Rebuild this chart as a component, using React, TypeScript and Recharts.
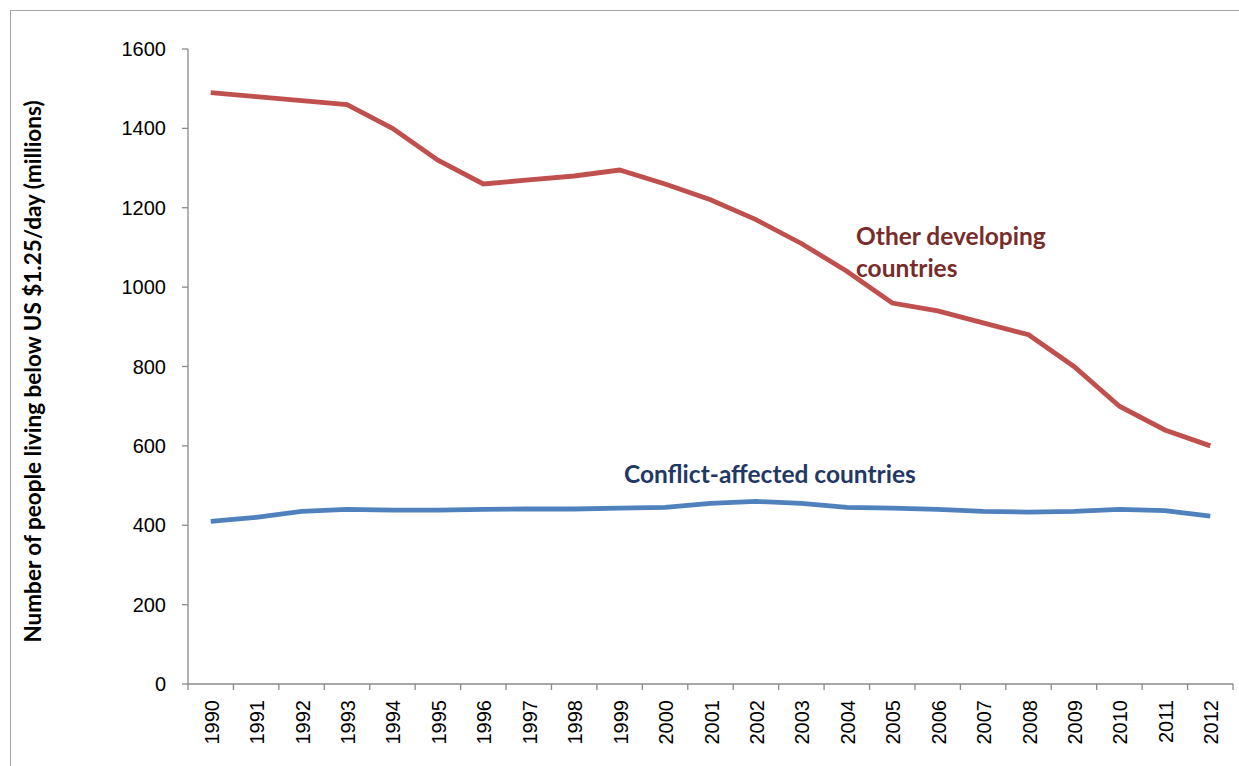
import React from 'react';
import { LineChart, Line, XAxis, YAxis, Label } from 'recharts';

const years = [
  '1990', '1991', '1992', '1993', '1994', '1995', '1996', '1997', '1998', '1999', '2000', '2001',
  '2002', '2003', '2004', '2005', '2006', '2007', '2008', '2009', '2010', '2011', '2012',
];
const otherDeveloping = [
  1490, 1480, 1470, 1460, 1400, 1320, 1260, 1270, 1280, 1295, 1260, 1220,
  1170, 1110, 1040, 960, 940, 910, 880, 800, 700, 640, 600,
];
const conflictAffected = [
  410, 420, 435, 440, 438, 438, 440, 441, 441, 443, 445, 455,
  460, 455, 445, 443, 440, 435, 433, 435, 440, 437, 423,
];
const yTicks = [0, 200, 400, 600, 800, 1000, 1200, 1400, 1600];

const chartData = years.map((year, i) => ({
  year,
  other: otherDeveloping[i],
  conflict: conflictAffected[i],
}));

const W = 1239;
const H = 766;
const LEFT = 188;
const RIGHT = 6;
const TOP = 49;
const XAXIS_H = 82;
const AXIS_GREY = '#8a8a8a';
const band = (W - LEFT - RIGHT) / years.length;

function YearTick(props: any) {
  const { x, y, payload, index } = props;
  const half = band / 2;
  return (
    <g>
      <line x1={x - half} y1={y - 6} x2={x - half} y2={y} stroke={AXIS_GREY} strokeWidth={1.3} />
      {index === years.length - 1 && (
        <line x1={x + half} y1={y - 6} x2={x + half} y2={y} stroke={AXIS_GREY} strokeWidth={1.3} />
      )}
      <text
        transform={`translate(${x + 1}, ${y + 10}) rotate(-90)`}
        textAnchor="end"
        dominantBaseline="central"
        fontFamily="'Liberation Sans', Arial, sans-serif"
        fontSize={20}
        fill="#000"
      >
        {payload.value}
      </text>
    </g>
  );
}

export default function App() {
  return (
    <div
      style={{
        position: 'absolute',
        left: 0,
        top: 0,
        width: W,
        height: H,
        background: '#fff',
        overflow: 'hidden',
      }}
    >
      <div
        style={{
          position: 'absolute',
          left: 10,
          top: 10,
          width: W,
          height: H,
          border: '1.5px solid #a6a6a6',
        }}
      />
      <LineChart
        width={W}
        height={H}
        data={chartData}
        margin={{ top: TOP, right: RIGHT, bottom: 0, left: 0 }}
        style={{ position: 'absolute', left: 0, top: 0 }}
      >
        <XAxis
          dataKey="year"
          height={XAXIS_H}
          interval={0}
          padding={{ left: band / 2, right: band / 2 }}
          tickLine={false}
          tickSize={6}
          tickMargin={0}
          axisLine={{ stroke: AXIS_GREY, strokeWidth: 1.3 }}
          tick={<YearTick />}
        />
        <YAxis
          width={LEFT}
          domain={[0, 1600]}
          ticks={yTicks}
          interval={0}
          tickSize={6}
          tickMargin={16}
          tickLine={{ stroke: AXIS_GREY, strokeWidth: 1.3 }}
          axisLine={{ stroke: AXIS_GREY, strokeWidth: 1.3 }}
          tick={{ fontFamily: "'Liberation Sans', Arial, sans-serif", fontSize: 20, fill: '#000' }}
        >
          <Label
            content={({ viewBox }: any) => (
              <text
                transform={`translate(32, ${viewBox.y + viewBox.height / 2 + 5}) rotate(-90)`}
                textAnchor="middle"
                dominantBaseline="central"
                fontFamily="Lato, 'Open Sans', sans-serif"
                fontWeight="bold"
                fontSize={22.5}
                fill="#000"
              >
                Number of people living below US $1.25/day (millions)
              </text>
            )}
          />
        </YAxis>
        <Line
          type="linear"
          dataKey="other"
          stroke="#C0504D"
          strokeWidth={4.8}
          dot={false}
          isAnimationActive={false}
        />
        <Line
          type="linear"
          dataKey="conflict"
          stroke="#4F81BD"
          strokeWidth={4.8}
          dot={false}
          isAnimationActive={false}
        />
      </LineChart>
      <div
        style={{
          position: 'absolute',
          left: 856,
          top: 220,
          fontFamily: "Lato, 'Open Sans', sans-serif",
          fontWeight: 'bold',
          fontSize: 24.5,
          lineHeight: '32px',
          color: '#772C2A',
          whiteSpace: 'nowrap',
        }}
      >
        Other developing
        <br />
        countries
      </div>
      <div
        style={{
          position: 'absolute',
          left: 624,
          top: 458,
          fontFamily: "Lato, 'Open Sans', sans-serif",
          fontWeight: 'bold',
          fontSize: 24.5,
          lineHeight: '32px',
          color: '#1F3864',
          whiteSpace: 'nowrap',
        }}
      >
        Conflict-affected countries
      </div>
    </div>
  );
}
